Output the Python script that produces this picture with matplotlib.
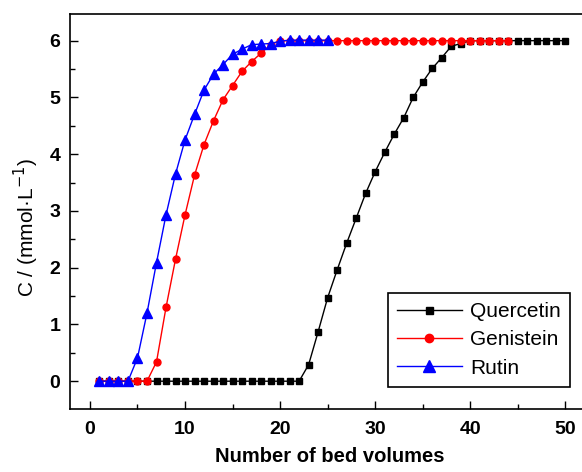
"""Breakthrough curves of three flavonoids on the adsorbent column."""

import matplotlib

matplotlib.use("Agg")
import matplotlib.pyplot as plt
from matplotlib.ticker import MultipleLocator

plt.rcParams["font.family"] = ["Liberation Sans", "DejaVu Sans"]

# bed volumes
quercetin_bv = list(range(1, 51))
genistein_bv = list(range(1, 45))
rutin_bv = list(range(1, 26))

# outlet concentration (mmol/L)
quercetin_c = [0.0] * 22 + [
    0.29, 0.87, 1.47, 1.96, 2.43, 2.87, 3.31, 3.69, 4.03, 4.35,
    4.64, 5.00, 5.27, 5.51, 5.70, 5.90, 5.95,
] + [6.0] * 11
genistein_c = [0.0] * 6 + [
    0.34, 1.30, 2.15, 2.93, 3.63, 4.17, 4.59, 4.96, 5.21, 5.46,
    5.63, 5.78, 5.93,
] + [6.0] * 25
rutin_c = [0.0] * 4 + [
    0.41, 1.20, 2.09, 2.93, 3.65, 4.25, 4.70, 5.13, 5.41, 5.58,
    5.76, 5.85, 5.93, 5.94, 5.95, 5.99,
] + [6.01] * 5

fig = plt.figure(figsize=(5.82, 4.72), dpi=100)
ax = fig.add_axes([70 / 582, 63 / 472, 520 / 582, 395 / 472])

ax.plot(quercetin_bv, quercetin_c, "-s", color="black", lw=1, ms=4.2,
        label="Quercetin")
ax.plot(genistein_bv, genistein_c, "-o", color="red", lw=1, ms=5,
        label="Genistein")
ax.plot(rutin_bv, rutin_c, "-^", color="blue", lw=1, ms=7, label="Rutin")

ax.set_xlim(-2.1, 52.6)
ax.set_ylim(-0.49, 6.47)
ax.xaxis.set_major_locator(MultipleLocator(10))
ax.xaxis.set_minor_locator(MultipleLocator(5))
ax.yaxis.set_major_locator(MultipleLocator(1))
ax.yaxis.set_minor_locator(MultipleLocator(0.5))
ax.tick_params(which="both", direction="in", top=False, right=False,
               width=1, colors="black")
ax.tick_params(which="major", length=6)
ax.tick_params(which="minor", length=3.5)
ax.tick_params(axis="x", pad=9)
ax.tick_params(axis="y", pad=7)
for lab in ax.get_xticklabels() + ax.get_yticklabels():
    lab.set_fontsize(14)
    lab.set_fontweight("bold")
for sp in ax.spines.values():
    sp.set_linewidth(1.2)

ax.set_xlabel("Number of bed volumes", fontsize=14.5, fontweight="bold",
              labelpad=6)
ax.set_ylabel("C / (mmol·L$^{-1}$)", fontsize=15)
ax.yaxis.set_label_coords(-29 / 520, (244 - 63) / 395)

leg = ax.legend(loc="lower right", bbox_to_anchor=(570 / 582, 85 / 472),
                bbox_transform=fig.transFigure, fontsize=15, frameon=True,
                fancybox=False, edgecolor="black", framealpha=1,
                handlelength=3.1, labelspacing=0.45, borderpad=0.45,
                handletextpad=0.4, markerscale=1.2, borderaxespad=0)
leg.get_frame().set_linewidth(1.2)

fig.savefig("out.png", dpi=100)
